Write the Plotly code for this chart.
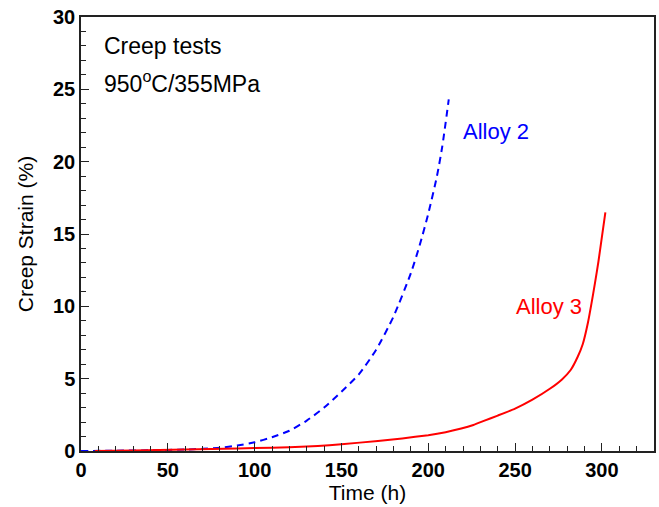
import plotly.graph_objects as go

# Alloy 2 (blue dashed)
alloy2_time = [0, 20, 40, 60, 70, 80, 90, 100, 110, 120, 130, 140, 150, 160, 170, 180, 190, 195, 200, 205, 208, 211.8]
alloy2_strain = [0, 0.02, 0.05, 0.1, 0.15, 0.22, 0.38, 0.6, 0.95, 1.4, 2.1, 3.0, 4.1, 5.3, 7.0, 9.3, 12.3, 14.2, 16.4, 19.0, 21.0, 24.3]

# Alloy 3 (red solid)
alloy3_time = [8, 30, 60, 90, 110, 130, 143, 150, 171, 185, 200, 210, 219, 226, 232, 240, 250, 260, 270, 277, 282, 286, 289, 292, 294, 296, 298, 300, 302]
alloy3_strain = [0, 0.04, 0.1, 0.17, 0.23, 0.31, 0.40, 0.47, 0.69, 0.87, 1.09, 1.3, 1.55, 1.8, 2.08, 2.45, 2.93, 3.55, 4.3, 4.95, 5.6, 6.5, 7.4, 8.9, 10.2, 11.6, 13.1, 14.8, 16.5]

x_ticks = [0, 50, 100, 150, 200, 250, 300]
x_tick_labels = ["0", "50", "100", "150", "200", "250", "300"]
y_ticks = [0, 5, 10, 15, 20, 25, 30]
y_tick_labels = ["0", "5", "10", "15", "20", "25", "30"]

FONT = "Liberation Sans, Arial, sans-serif"

fig = go.Figure()
fig.add_trace(go.Scatter(x=alloy2_time, y=alloy2_strain, mode="lines",
                         line=dict(color="#0000ff", width=2, dash="7px,5px", shape="spline", smoothing=0.6),
                         showlegend=False))
fig.add_trace(go.Scatter(x=alloy3_time, y=alloy3_strain, mode="lines",
                         line=dict(color="#ff0000", width=2, shape="spline", smoothing=0.4),
                         showlegend=False))

fig.add_annotation(x=12, y=28.0, text="Creep tests", showarrow=False, xanchor="left", yanchor="middle",
                   font=dict(family=FONT, size=23, color="black"))
fig.add_annotation(x=12, y=25.5, text="950<sup>o</sup>C/355MPa", showarrow=False, xanchor="left", yanchor="middle",
                   font=dict(family=FONT, size=23, color="black"))
fig.add_annotation(x=219, y=22.1, text="Alloy 2", showarrow=False, xanchor="left", yanchor="middle",
                   font=dict(family=FONT, size=22, color="#0000ff"))
fig.add_annotation(x=249.5, y=9.97, text="Alloy 3", showarrow=False, xanchor="left", yanchor="middle",
                   font=dict(family=FONT, size=22, color="#ff0000"))

axis_common = dict(showgrid=False, zeroline=False, showline=True, linecolor="#222", linewidth=1.5,
                   mirror=True, ticks="inside", tickcolor="#222", ticklen=8, tickwidth=1.3,
                   tickfont=dict(family=FONT, size=20, color="black"))

fig.update_xaxes(range=[0, 330], tickvals=x_ticks, ticktext=["<b>%s</b>" % t for t in x_tick_labels],
                 title=dict(text="Time (h)", standoff=3, font=dict(family=FONT, size=21, color="black")),
                 minor=dict(ticks="inside", dtick=10, ticklen=5, tickcolor="#222", tickwidth=1.2),
                 **axis_common)
fig.update_yaxes(range=[0, 30], tickvals=y_ticks, ticktext=["<b>%s</b>" % t for t in y_tick_labels],
                 title=dict(text="Creep Strain (%)", standoff=14, font=dict(family=FONT, size=21, color="black")),
                 minor=dict(ticks="inside", dtick=1, ticklen=5, tickcolor="#222", tickwidth=1.2),
                 **axis_common)

fig.update_layout(width=659, height=507, margin=dict(l=81, r=3, t=17, b=56),
                  plot_bgcolor="white", paper_bgcolor="white",
                  font=dict(family=FONT))

fig.write_html("out.html")
